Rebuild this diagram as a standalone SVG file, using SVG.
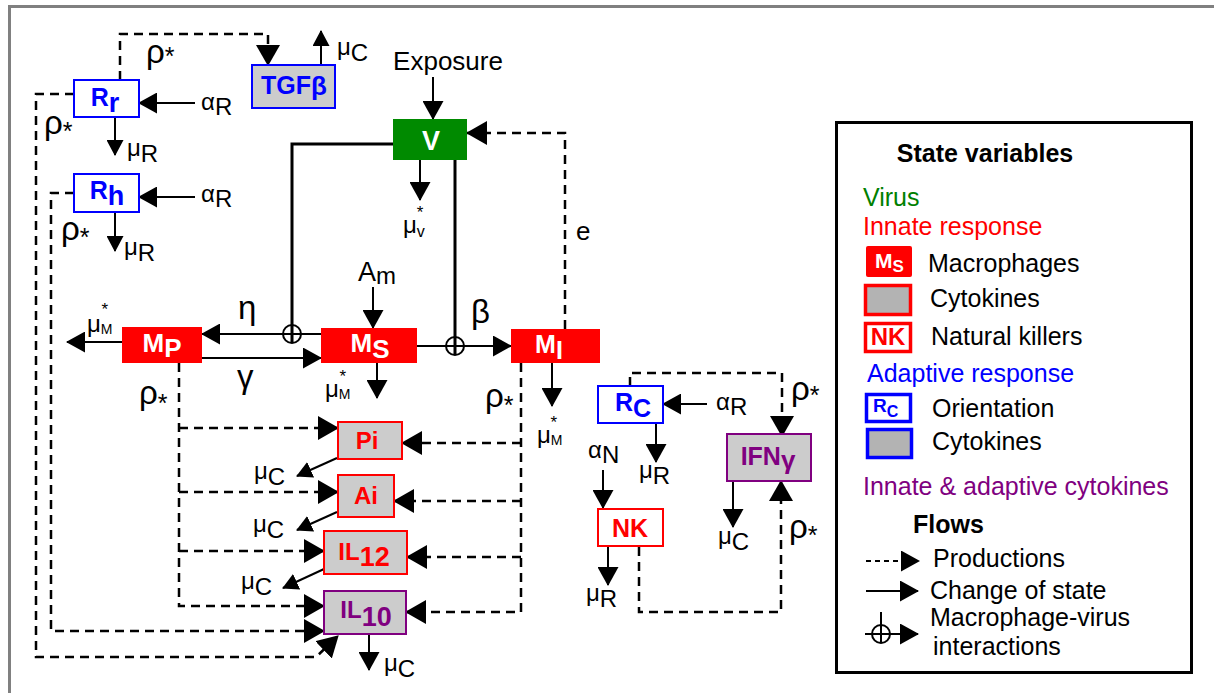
<svg xmlns="http://www.w3.org/2000/svg" width="1214" height="693" viewBox="0 0 1214 693">
<defs>
<style>
text{font-family:"Liberation Sans",Arial,sans-serif;fill:#000}
.s{stroke:#000;stroke-width:2;fill:none}
.sw{stroke:#000;stroke-width:3;fill:none}
.d{stroke:#000;stroke-width:2.5;fill:none;stroke-dasharray:9 6}
.b{font-weight:bold}
.lab{font-size:24px}
.gr{font-size:33px}
.leg{font-size:25px}
</style>
<marker id="ah" viewBox="0 0 19 21" refX="18" refY="10.5" markerWidth="19" markerHeight="21" markerUnits="userSpaceOnUse" orient="auto"><path d="M0,0 L19,10.5 L0,21 z" fill="#000"/></marker>
<marker id="ad" viewBox="0 0 21 24" refX="20" refY="12" markerWidth="21" markerHeight="24" markerUnits="userSpaceOnUse" orient="auto"><path d="M0,0 L21,12 L0,24 z" fill="#000"/></marker>
<marker id="as" viewBox="0 0 16 17" refX="15" refY="8.5" markerWidth="16" markerHeight="17" markerUnits="userSpaceOnUse" orient="auto"><path d="M0,0 L16,8.5 L0,17 z" fill="#000"/></marker>
</defs>
<rect width="1214" height="693" fill="#fff"/>
<path d="M9.5,693 V6.5 H1214" stroke="#808080" stroke-width="3" fill="none"/>

<g id="connectors">
<path class="s" d="M433,77 V119" marker-end="url(#ah)"/>
<path class="s" d="M420,160 V200" marker-end="url(#ah)"/>
<path class="sw" d="M393,144 H292 V343"/>
<path class="sw" d="M455,160 V355"/>
<path class="s" d="M321,334 H202" marker-end="url(#ah)"/>
<path class="s" d="M202,358 H321" marker-end="url(#ah)"/>
<path class="s" d="M417,346 H511" marker-end="url(#ah)"/>
<circle cx="292" cy="334" r="9" fill="none" stroke="#000" stroke-width="2"/>
<circle cx="455" cy="346" r="9" fill="none" stroke="#000" stroke-width="2"/>
<path class="s" d="M373,287 V328" marker-end="url(#ah)"/>
<path class="s" d="M377,363 V398" marker-end="url(#ah)"/>
<path class="s" d="M122,342 H67" marker-end="url(#ah)"/>
<path class="s" d="M552,363 V406" marker-end="url(#ah)"/>
<path class="d" d="M565,329 V133 H467" marker-end="url(#ad)"/>
<path class="s" d="M195,103 H139" marker-end="url(#ah)"/>
<path class="s" d="M195,197 H139" marker-end="url(#ah)"/>
<path class="s" d="M115,117 V155" marker-end="url(#as)"/>
<path class="s" d="M115,212 V251" marker-end="url(#as)"/>
<path class="d" d="M120,80 V34 H268 V65" marker-end="url(#ad)"/>
<path class="s" d="M321,65 V31" marker-end="url(#as)"/>
<path class="d" d="M74,94 H36 V657 H316 L338,636" marker-end="url(#ad)"/>
<path class="d" d="M74,193 H51 V631 H324" marker-end="url(#ad)"/>
<path class="d" d="M179,363 V606 H324" marker-end="url(#ad)"/>
<path class="d" d="M179,428 H338" marker-end="url(#ad)"/>
<path class="d" d="M179,492 H338" marker-end="url(#ad)"/>
<path class="d" d="M179,551 H324" marker-end="url(#ad)"/>
<path class="d" d="M521,363 V612 H406" marker-end="url(#ad)"/>
<path class="d" d="M521,443 H402" marker-end="url(#ad)"/>
<path class="d" d="M521,501 H394" marker-end="url(#ad)"/>
<path class="d" d="M521,557 H407" marker-end="url(#ad)"/>
<path class="s" d="M337,458 L297,476" marker-end="url(#as)"/>
<path class="s" d="M337,512 L297,530" marker-end="url(#as)"/>
<path class="s" d="M324,569 L283,588" marker-end="url(#as)"/>
<path class="s" d="M369,634 V670" marker-end="url(#ah)"/>
<path class="s" d="M707,404 H663" marker-end="url(#ah)"/>
<path class="s" d="M656,423 V462" marker-end="url(#ah)"/>
<path class="d" d="M630,386 V373 H782 V436" marker-end="url(#ad)"/>
<path class="s" d="M603,470 V508" marker-end="url(#ah)"/>
<path class="s" d="M608,546 V585" marker-end="url(#ah)"/>
<path class="s" d="M733,481 V527" marker-end="url(#ah)"/>
<path class="d" d="M639,547 V612 H781 V481" marker-end="url(#ad)"/>

<text x="448" y="70" font-size="26" text-anchor="middle">Exposure</text>
<text x="576" y="240" font-size="26">e</text>
<text x="403" y="233" font-size="24">μ<tspan font-size="16" dy="4">v</tspan><tspan font-size="17" dx="-8" dy="-19">*</tspan></text>
<text x="325" y="397" font-size="24">μ<tspan font-size="14" dy="2">M</tspan><tspan font-size="17" dx="-11" dy="-17">*</tspan></text>
<text x="87" y="332" font-size="24">μ<tspan font-size="14" dy="2">M</tspan><tspan font-size="17" dx="-11" dy="-19">*</tspan></text>
<text x="537" y="443" font-size="24">μ<tspan font-size="14" dy="2">M</tspan><tspan font-size="17" dx="-12" dy="-17">*</tspan></text>
<text x="358" y="281" font-size="27">A<tspan font-size="24" dy="3">m</tspan></text>
<text x="238" y="319" class="gr">η</text>
<text x="237" y="388" class="gr">γ</text>
<text x="471" y="323" class="gr">β</text>
<text x="139" y="404" class="gr">ρ<tspan font-size="25" dy="8">*</tspan></text>
<text x="485" y="407" class="gr">ρ<tspan font-size="25" dy="7">*</tspan></text>
<text x="146" y="63" class="gr">ρ<tspan font-size="25" dy="2">*</tspan></text>
<text x="44" y="134" class="gr">ρ<tspan font-size="25" dy="6">*</tspan></text>
<text x="61" y="240" class="gr">ρ<tspan font-size="25" dy="6">*</tspan></text>
<text x="791" y="400" class="gr">ρ<tspan font-size="25" dy="4">*</tspan></text>
<text x="789" y="538" class="gr">ρ<tspan font-size="25" dy="6">*</tspan></text>
<text x="337" y="55" class="lab">μ<tspan dy="6">C</tspan></text>
<text x="127" y="156" class="lab">μ<tspan dy="6">R</tspan></text>
<text x="124" y="255" class="lab">μ<tspan dy="6">R</tspan></text>
<text x="201" y="110" class="lab">α<tspan dy="5">R</tspan></text>
<text x="201" y="202" class="lab">α<tspan dy="5">R</tspan></text>
<text x="254" y="479" class="lab">μ<tspan dy="6">C</tspan></text>
<text x="253" y="532" class="lab">μ<tspan dy="6">C</tspan></text>
<text x="241" y="589" class="lab">μ<tspan dy="6">C</tspan></text>
<text x="384" y="671" class="lab">μ<tspan dy="6">C</tspan></text>
<text x="716" y="410" class="lab">α<tspan dy="5">R</tspan></text>
<text x="639" y="478" class="lab">μ<tspan dy="6">R</tspan></text>
<text x="588" y="458" class="lab">α<tspan dy="5">N</tspan></text>
<text x="586" y="601" class="lab">μ<tspan dy="6">R</tspan></text>
<text x="718" y="544" class="lab">μ<tspan dy="6">C</tspan></text>
</g>

<g id="n-Rr"><rect x="74" y="80" width="65" height="37" fill="#fff" stroke="#0000ff" stroke-width="2"/><text x="105" y="106" text-anchor="middle" class="b" font-size="25" style="fill:#0000ff">R<tspan font-size="27" dy="6">r</tspan></text></g>
<g id="n-Rh"><rect x="74" y="174" width="65" height="38" fill="#fff" stroke="#0000ff" stroke-width="2"/><text x="107" y="199" text-anchor="middle" class="b" font-size="25" style="fill:#0000ff">R<tspan font-size="27" dy="6">h</tspan></text></g>
<g id="n-TGFb"><rect x="252" y="65" width="83" height="43" fill="#cccccc" stroke="#0000ff" stroke-width="2"/><text x="294" y="94" text-anchor="middle" class="b" font-size="25" style="fill:#0000ff">TGF<tspan font-size="26" dy="1">β</tspan></text></g>
<g id="n-V"><rect x="393" y="119" width="74" height="41" fill="#008a00"/><text x="431" y="150" text-anchor="middle" class="b" font-size="27" style="fill:#fff">V</text></g>
<g id="n-MP"><rect x="122" y="327" width="80" height="36" fill="#ff0000"/><text x="162" y="352" text-anchor="middle" class="b" font-size="26" style="fill:#fff">M<tspan dy="5">P</tspan></text></g>
<g id="n-MS"><rect x="321" y="328" width="96" height="35" fill="#ff0000"/><text x="370" y="352" text-anchor="middle" class="b" font-size="26" style="fill:#fff">M<tspan dy="6">S</tspan></text></g>
<g id="n-MI"><rect x="511" y="329" width="89" height="34" fill="#ff0000"/><text x="549" y="353" text-anchor="middle" class="b" font-size="25" style="fill:#fff">M<tspan dy="6">I</tspan></text></g>
<g id="n-Pi"><rect x="338" y="422" width="64" height="37" fill="#cccccc" stroke="#ff0000" stroke-width="2"/><text x="367" y="449" text-anchor="middle" class="b" font-size="24" style="fill:#ff0000">Pi</text></g>
<g id="n-Ai"><rect x="338" y="475" width="56" height="42" fill="#cccccc" stroke="#ff0000" stroke-width="2"/><text x="366" y="504" text-anchor="middle" class="b" font-size="24" style="fill:#ff0000">Ai</text></g>
<g id="n-IL12"><rect x="324" y="531" width="83" height="43" fill="#cccccc" stroke="#ff0000" stroke-width="2"/><text x="364" y="560" text-anchor="middle" class="b" font-size="24" style="fill:#ff0000">IL<tspan font-size="27" dy="6">12</tspan></text></g>
<g id="n-IL10"><rect x="324" y="591" width="82" height="43" fill="#cccccc" stroke="#800080" stroke-width="2"/><text x="366" y="618" text-anchor="middle" class="b" font-size="24" style="fill:#800080">IL<tspan font-size="27" dy="8">10</tspan></text></g>
<g id="n-Rc"><rect x="598" y="386" width="65" height="37" fill="#fff" stroke="#0000ff" stroke-width="2"/><text x="633" y="411" text-anchor="middle" class="b" font-size="25" style="fill:#0000ff">R<tspan dy="6">C</tspan></text></g>
<g id="n-NK"><rect x="598" y="509" width="65" height="37" fill="#fff" stroke="#ff0000" stroke-width="2"/><text x="630" y="537" text-anchor="middle" class="b" font-size="25" style="fill:#ff0000">NK</text></g>
<g id="n-IFNg"><rect x="727" y="434" width="84" height="47" fill="#cccccc" stroke="#800080" stroke-width="2"/><text x="768" y="465" text-anchor="middle" class="b" font-size="25" style="fill:#800080">IFN<tspan font-size="26" dy="4">γ</tspan></text></g>

<g id="legend">
<rect x="836.5" y="122.5" width="355" height="550" fill="#fff" stroke="#000" stroke-width="3"/>
<text x="985" y="162" text-anchor="middle" class="b leg">State variables</text>
<text x="863" y="206" class="leg" style="fill:#008000">Virus</text>
<text x="863" y="235" class="leg" style="fill:#ff0000">Innate response</text>
<rect x="866" y="246" width="46" height="31" rx="2" fill="#ff0000"/>
<text x="875" y="268" class="b" font-size="21" style="fill:#fff">M<tspan font-size="17" dy="4">S</tspan></text>
<text x="928" y="272" class="leg">Macrophages</text>
<rect x="865.5" y="285.5" width="45" height="29" fill="#b3b3b3" stroke="#ff0000" stroke-width="3.5"/>
<text x="930" y="307" class="leg">Cytokines</text>
<rect x="865.5" y="323.5" width="45" height="28" fill="#fff" stroke="#ff0000" stroke-width="3.5"/>
<text x="888" y="345" text-anchor="middle" class="b" font-size="24" style="fill:#ff0000">NK</text>
<text x="931" y="345" class="leg">Natural killers</text>
<text x="867" y="382" class="leg" style="fill:#0000ff">Adaptive response</text>
<rect x="866.5" y="394.5" width="44" height="27" fill="#fff" stroke="#0000ff" stroke-width="3.5"/>
<text x="873" y="412" class="b" font-size="19" style="fill:#0000ff">R<tspan font-size="16" dy="5">C</tspan></text>
<text x="932" y="417" class="leg">Orientation</text>
<rect x="867.5" y="429.5" width="44" height="28" fill="#b3b3b3" stroke="#0000ff" stroke-width="3.5"/>
<text x="932" y="450" class="leg">Cytokines</text>
<text x="863" y="495" class="leg" style="fill:#800080">Innate &amp; adaptive cytokines</text>
<text x="913" y="533" class="b leg">Flows</text>
<path d="M866,561 H919" stroke="#000" stroke-width="2" stroke-dasharray="5 4" fill="none" marker-end="url(#ah)"/>
<text x="933" y="567" class="leg">Productions</text>
<path class="s" d="M866,591 H918" marker-end="url(#ah)"/>
<text x="930" y="599" class="leg">Change of state</text>
<path class="s" d="M881,612 V643"/>
<path class="s" d="M865,634 H918" marker-end="url(#ah)"/>
<circle cx="881" cy="634" r="9" fill="none" stroke="#000" stroke-width="2"/>
<text x="930" y="626" class="leg">Macrophage-virus</text>
<text x="933" y="655" class="leg">interactions</text>
</g>
</svg>
